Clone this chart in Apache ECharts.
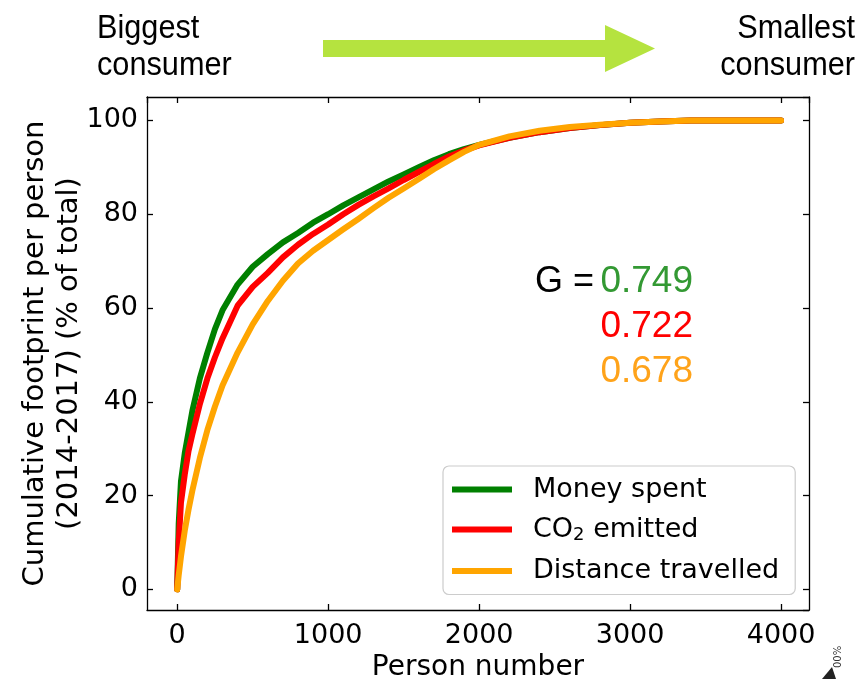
<!DOCTYPE html>
<html>
<head>
<meta charset="utf-8">
<script src="https://cdn.jsdelivr.net/npm/echarts@6/dist/echarts.min.js"></script>
<style>
  html, body { margin: 0; padding: 0; background: #fff; }
  #chart { width: 865px; height: 679px; }
</style>
</head>
<body>
<div id="chart"></div>
<script>
// ---- data ----
const personNumber      = [0, 10, 25, 50, 75, 100, 150, 200, 250, 300, 400, 500, 600, 700, 800, 900, 1000, 1100, 1200, 1300, 1400, 1500, 1600, 1700, 1800, 1900, 2000, 2200, 2400, 2600, 2800, 3000, 3200, 3400, 3600, 3800, 4000];
const moneySpent        = [0, 14, 23, 29, 33.5, 38, 45, 50.5, 55.5, 59.5, 65, 68.8, 71.5, 74, 76, 78.2, 80, 81.9, 83.6, 85.3, 87, 88.5, 90, 91.5, 92.8, 93.9, 94.8, 96.3, 97.5, 98.4, 99.0, 99.5, 99.8, 100, 100, 100, 100];
const co2Emitted        = [0, 10, 18.5, 24.5, 29.5, 33, 39.5, 45, 49.5, 53.5, 60.5, 64.5, 67.5, 70.8, 73.5, 75.8, 77.8, 80, 82, 83.8, 85.5, 87.3, 89, 90.7, 92.3, 93.6, 94.7, 96.3, 97.5, 98.4, 99.0, 99.5, 99.8, 100, 100, 100, 100];
const distanceTravelled = [0, 3, 7, 12.5, 17, 21, 28, 34, 39, 43.5, 50.5, 56.5, 61.5, 65.8, 69.5, 72.2, 74.5, 76.8, 79, 81.3, 83.5, 85.5, 87.5, 89.6, 91.5, 93.3, 94.8, 96.6, 97.8, 98.6, 99.1, 99.5, 99.8, 100, 100, 100, 100];
const seriesNames       = ['Money spent', 'CO2 emitted', 'Distance travelled'];
const seriesColors      = ['#008000', '#ff0000', '#ffa500'];
const giniValues        = ['0.749', '0.722', '0.678'];
const giniColors        = ['#339933', '#ff0000', '#ffa31a'];
const headerLeft        = 'Biggest\nconsumer';
const headerRight       = 'Smallest\nconsumer';
const xTitle            = 'Person number';
const yTitle            = 'Cumulative footprint per person\n(2014-2017) (% of total)';

const pairs = arr => personNumber.map((x, i) => [x, arr[i]]);
const allSeries = [moneySpent, co2Emitted, distanceTravelled];

const tickFont = 'DejaVu Sans';
const axisCommon = {
  type: 'value',
  axisLine: { show: true, onZero: false, lineStyle: { color: '#000', width: 1.3 } },
  axisTick: { show: true, inside: true, length: 6, lineStyle: { color: '#000', width: 1.3 } },
  splitLine: { show: false },
  axisLabel: { showMinLabel: false, showMaxLabel: false, color: '#000', fontFamily: tickFont, fontSize: 27, formatter: v => String(v) }
};

const chart = echarts.init(document.getElementById('chart'), null, { renderer: 'canvas' });

const option = {
  animation: false,
  backgroundColor: '#fff',
  grid: { left: 147, top: 97, right: 56, bottom: 69, containLabel: false, outerBoundsMode: 'none' },
  xAxis: [
    Object.assign({}, axisCommon, {
      min: -200, max: 4185, position: 'bottom',
      axisLabel: Object.assign({}, axisCommon.axisLabel, { margin: 12 }),
      name: xTitle, nameLocation: 'middle', nameGap: 38,
      nameTextStyle: { color: '#000', fontFamily: tickFont, fontSize: 28 }
    }),
    Object.assign({}, axisCommon, {
      min: -200, max: 4185, position: 'top',
      axisLabel: { show: false }
    })
  ],
  yAxis: [
    Object.assign({}, axisCommon, {
      min: -4.4, max: 105, position: 'left',
      axisLabel: Object.assign({}, axisCommon.axisLabel, { margin: 9 }),
      name: yTitle, nameLocation: 'middle', nameGap: 61, nameRotate: 90, nameMoveOverlap: false,
      nameTextStyle: { color: '#000', fontFamily: tickFont, fontSize: 29, lineHeight: 34, align: 'center' }
    }),
    Object.assign({}, axisCommon, {
      min: -4.4, max: 105, position: 'right',
      axisLabel: { show: false }
    })
  ],
  legend: {
    orient: 'vertical',
    left: 443, top: 466,
    padding: [10, 16, 10, 9],
    itemWidth: 60, itemHeight: 6, itemGap: 13,
    icon: 'rect',
    backgroundColor: '#fff',
    borderColor: '#cccccc', borderWidth: 1.2, borderRadius: 6,
    data: seriesNames,
    formatter: name => name === 'CO2 emitted' ? '{t|CO}{s|2}{t| emitted}' : '{t|' + name + '}',
    textStyle: {
      color: '#000', fontFamily: tickFont, fontSize: 27, padding: [0, 0, 0, 16],
      rich: {
        t: { fontFamily: tickFont, fontSize: 27, color: '#000' },
        s: { fontFamily: tickFont, fontSize: 18, color: '#000', padding: [12, 0, 0, 0] }
      }
    }
  },
  series: allSeries.map((arr, i) => ({
    name: seriesNames[i],
    type: 'line',
    data: pairs(arr),
    showSymbol: false,
    smooth: false,
    lineStyle: { color: seriesColors[i], width: 6, join: 'round', cap: 'round' },
    itemStyle: { color: seriesColors[i] },
    z: 2 + i
  })),
  graphic: [
    { type: 'text', x: 97, y: 10, scaleX: 0.93, style: { text: headerLeft, fill: '#000', font: '33px "Liberation Sans"', lineHeight: 37, align: 'left' } },
    { type: 'text', x: 855, y: 10, scaleX: 0.93, style: { text: headerRight, fill: '#000', font: '33px "Liberation Sans"', lineHeight: 37, align: 'right' } },
    { type: 'polygon', shape: { points: [[323, 40], [605, 40], [605, 25], [655, 48.5], [605, 72], [605, 57], [323, 57]] }, style: { fill: '#b5e33f' } },
    { type: 'text', x: 535, y: 282, style: { text: 'G =', fill: '#000', font: '36px "Liberation Sans"', verticalAlign: 'middle', align: 'left' } },
    ...giniValues.map((g, i) => ({
      type: 'text', x: 693, y: 282 + 45 * i,
      style: { text: g, fill: giniColors[i], font: '37px "Liberation Sans"', verticalAlign: 'middle', align: 'right' }
    })),
    { type: 'text', x: 838, y: 668, rotation: Math.PI / 2, style: { text: '00%', fill: '#333', font: '10px "DejaVu Sans"', verticalAlign: 'middle' } },
    { type: 'polygon', shape: { points: [[822, 679], [832, 667], [836, 679]] }, style: { fill: '#222' } }
  ]
};
chart.setOption(option);
</script>
</body>
</html>
